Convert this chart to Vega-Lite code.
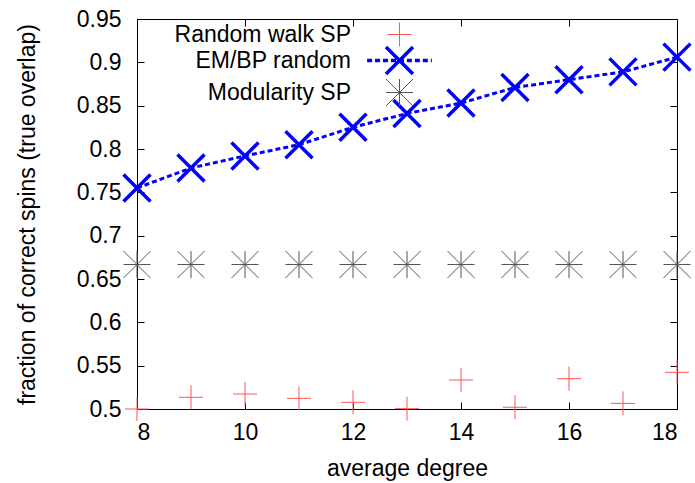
{
  "$schema": "https://vega.github.io/schema/vega-lite/v6.json",
  "width": 540,
  "height": 390,
  "autosize": {"type": "none"},
  "padding": {"left": 137, "top": 19, "right": 18, "bottom": 74},
  "background": "#ffffff",
  "config": {
    "font": "Liberation Sans",
    "view": {"stroke": "#000000", "strokeWidth": 1},
    "axis": {
      "grid": false,
      "domain": false,
      "tickSize": -7,
      "tickColor": "#000000",
      "tickWidth": 1,
      "labelFont": "Liberation Sans",
      "labelFontSize": 23,
      "labelColor": "#000000",
      "titleFont": "Liberation Sans",
      "titleFontSize": 23,
      "titleFontWeight": "normal",
      "titleColor": "#000000"
    },
    "legend": {
      "orient": "none",
      "legendX": 251,
      "legendY": 4,
      "padding": 0,
      "labelAlign": "right",
      "labelBaseline": "middle",
      "labelOffset": -60,
      "labelFont": "Liberation Sans",
      "labelFontSize": 23,
      "labelColor": "#000000",
      "labelLimit": 400,
      "rowPadding": -10,
      "symbolSize": 100,
      "symbolStrokeWidth": 1
    }
  },
  "data": {
    "values": [
      {"degree": 8, "overlap": 0.5, "series": "Random walk SP"},
      {"degree": 9, "overlap": 0.5135, "series": "Random walk SP"},
      {"degree": 10, "overlap": 0.5173, "series": "Random walk SP"},
      {"degree": 11, "overlap": 0.5123, "series": "Random walk SP"},
      {"degree": 12, "overlap": 0.5077, "series": "Random walk SP"},
      {"degree": 13, "overlap": 0.5004, "series": "Random walk SP"},
      {"degree": 14, "overlap": 0.5335, "series": "Random walk SP"},
      {"degree": 15, "overlap": 0.502, "series": "Random walk SP"},
      {"degree": 16, "overlap": 0.535, "series": "Random walk SP"},
      {"degree": 17, "overlap": 0.5065, "series": "Random walk SP"},
      {"degree": 18, "overlap": 0.5423, "series": "Random walk SP"},
      {"degree": 8, "overlap": 0.755, "series": "EM/BP random"},
      {"degree": 9, "overlap": 0.778, "series": "EM/BP random"},
      {"degree": 10, "overlap": 0.792, "series": "EM/BP random"},
      {"degree": 11, "overlap": 0.805, "series": "EM/BP random"},
      {"degree": 12, "overlap": 0.825, "series": "EM/BP random"},
      {"degree": 13, "overlap": 0.841, "series": "EM/BP random"},
      {"degree": 14, "overlap": 0.853, "series": "EM/BP random"},
      {"degree": 15, "overlap": 0.871, "series": "EM/BP random"},
      {"degree": 16, "overlap": 0.88, "series": "EM/BP random"},
      {"degree": 17, "overlap": 0.889, "series": "EM/BP random"},
      {"degree": 18, "overlap": 0.906, "series": "EM/BP random"},
      {"degree": 8, "overlap": 0.6667, "series": "Modularity SP"},
      {"degree": 9, "overlap": 0.6667, "series": "Modularity SP"},
      {"degree": 10, "overlap": 0.6667, "series": "Modularity SP"},
      {"degree": 11, "overlap": 0.6667, "series": "Modularity SP"},
      {"degree": 12, "overlap": 0.6667, "series": "Modularity SP"},
      {"degree": 13, "overlap": 0.6667, "series": "Modularity SP"},
      {"degree": 14, "overlap": 0.6667, "series": "Modularity SP"},
      {"degree": 15, "overlap": 0.6667, "series": "Modularity SP"},
      {"degree": 16, "overlap": 0.6667, "series": "Modularity SP"},
      {"degree": 17, "overlap": 0.6667, "series": "Modularity SP"},
      {"degree": 18, "overlap": 0.6667, "series": "Modularity SP"}
    ]
  },
  "layer": [
    {
      "transform": [{"filter": "datum.series === 'EM/BP random'"}],
      "mark": {"type": "line", "color": "#0000ff", "strokeWidth": 3, "strokeDash": [5, 3]},
      "encoding": {
        "x": {
          "field": "degree", "type": "quantitative",
          "scale": {"domain": [8, 18], "nice": false, "zero": false},
          "axis": {"orient": "bottom", "values": [8, 10, 12, 14, 16, 18], "format": "d", "title": "average degree", "labelPadding": 19, "titleY": 66, "titleBaseline": "alphabetic"}
        },
        "y": {
          "field": "overlap", "type": "quantitative",
          "scale": {"domain": [0.5, 0.95], "nice": false, "zero": false},
          "axis": {"orient": "left", "values": [0.5, 0.55, 0.6, 0.65, 0.7, 0.75, 0.8, 0.85, 0.9, 0.95], "format": ".2~f", "title": "fraction of correct spins (true overlap)", "labelPadding": 23, "titleX": -110, "titleY": 195, "titleAngle": -90, "titleAlign": "center", "titleBaseline": "middle"}
        }
      }
    },
    {
      "mark": {"type": "point", "filled": false, "size": 729, "opacity": 1},
      "encoding": {
        "x": {
          "field": "degree", "type": "quantitative",
          "axis": {"orient": "top", "values": [8, 10, 12, 14, 16, 18], "labels": false, "title": null}
        },
        "y": {
          "field": "overlap", "type": "quantitative",
          "axis": {"orient": "right", "values": [0.5, 0.55, 0.6, 0.65, 0.7, 0.75, 0.8, 0.85, 0.9, 0.95], "labels": false, "title": null}
        },
        "color": {
          "field": "series", "type": "nominal",
          "scale": {"domain": ["Random walk SP", "EM/BP random", "Modularity SP"], "range": ["#ff5555", "#0000ff", "#555555"]},
          "legend": {
            "title": null,
            "encoding": {
              "symbols": {
                "size": {"value": 729},
                "stroke": {"value": {"expr": "scale('color', datum.value)"}},
                "strokeWidth": {"value": {"expr": "datum.value === 'EM/BP random' ? 3.5 : 1"}},
                "shape": {"value": {"expr": "datum.value === 'EM/BP random' ? 'M-1,-1L1,1M-1,1L1,-1M-2.4,0H-2.03M-1.81,0H-1.44M-1.22,0H-0.85M-0.63,0H-0.26M-0.04,0H0.33M0.55,0H0.92M1.14,0H1.51M1.73,0H2.1M2.32,0H2.4' : datum.value === 'Random walk SP' ? 'M-0.89,0H0.89M0,-0.89V0.89' : 'M-1,0H1M0,-1V1M-1,-1L1,1M-1,1L1,-1'"}}
              }
            }
          }
        },
        "shape": {
          "condition": [
            {"test": "datum.series === 'Random walk SP'", "value": "M-0.89,0H0.89M0,-0.89V0.89"},
            {"test": "datum.series === 'EM/BP random'", "value": "M-1,-1L1,1M-1,1L1,-1"}
          ],
          "value": "M-1,0H1M0,-1V1M-1,-1L1,1M-1,1L1,-1"
        },
        "strokeWidth": {
          "condition": {"test": "datum.series === 'EM/BP random'", "value": 3.5},
          "value": 1
        }
      }
    }
  ],
  "resolve": {"axis": {"x": "independent", "y": "independent"}}
}
